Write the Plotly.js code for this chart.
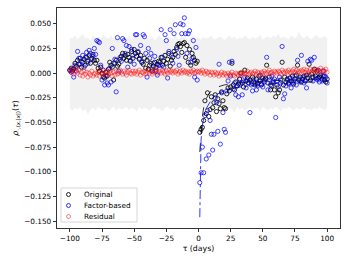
<!DOCTYPE html>
<html>
<head>
<meta charset="utf-8">
<script src="https://cdn.plot.ly/plotly-3.0.1.min.js"></script>
<style>html,body{margin:0;padding:0;background:#fff;}#chart{width:349px;height:262px;}</style>
</head>
<body>
<div id="chart"></div>
<script>
// lags (days) -100..100
const tau = Array.from({length: 201}, (_, i) => i - 100);
const bandTau = Array.from({length: 101}, (_, i) => -100 + 2 * i);

// Original series, tau -100..100 (tau 0 missing)
const original = [
  0.003, 0.005, 0.002, 0.004, 0.010, 0.007, 0.013, 0.009, 0.015, 0.006,
  0.011, 0.014, 0.008, 0.016, 0.012, 0.018, 0.010, 0.015, 0.019, 0.013,
  0.010, 0.013, 0.005, 0.002, 0.006, 0.000, -0.004, -0.005, 0.001, -0.003,
  0.004, 0.011, 0.008, 0.006, -0.007, 0.010, 0.013, 0.007, 0.009, 0.014,
  0.017, 0.020, 0.015, 0.018, 0.013, 0.019, 0.016, 0.012, 0.022, 0.015,
  0.024, 0.020, 0.017, 0.021, 0.014, 0.018, 0.011, 0.009, 0.015, 0.005,
  0.013, 0.004, 0.008, 0.010, 0.002, 0.007, 0.011, 0.006, 0.009, 0.012,
  0.011, 0.016, 0.008, 0.012, 0.018, 0.010, 0.014, 0.020, 0.007, 0.013,
  0.016, 0.022, 0.019, 0.026, 0.029, 0.030, 0.027, 0.021, 0.030, 0.031,
  0.016, 0.028, 0.011, 0.024, 0.008, 0.020, 0.016, 0.013, 0.010, 0.012,
  null,
  -0.060, -0.057, -0.055, -0.048, -0.028, -0.041, -0.020, -0.044, -0.037, -0.024,
  -0.035, -0.030, -0.022, -0.039, -0.026, -0.031, -0.036, -0.019, -0.028, -0.035,
  -0.036, -0.021, -0.015, -0.018, -0.014, 0.010, -0.012, -0.017, -0.009, -0.013,
  -0.011, -0.006, 0.000, -0.010, -0.014, 0.003, -0.008, -0.005, -0.010, -0.007,
  -0.009, -0.004, -0.009, -0.012, -0.006, -0.011, -0.003, -0.008, -0.012, -0.005,
  -0.007, -0.006, 0.008, -0.010, -0.004, -0.017, -0.013, -0.008, -0.017, -0.024,
  -0.012, -0.020, -0.017, -0.007, 0.011, -0.012, -0.004, -0.009, -0.006, -0.010,
  -0.005, -0.008, -0.003, -0.011, -0.006, -0.002, 0.008, -0.007, -0.004, -0.009,
  -0.006, -0.003, -0.008, -0.002, -0.005, 0.009, -0.007, -0.001, -0.004, 0.004,
  -0.003, 0.002, -0.005, -0.004, -0.002, -0.006, -0.003, -0.007, -0.009, -0.006
];

// Factor-based series
const factor = [
  0.003, 0.001, 0.004, -0.004, 0.008, 0.002, 0.022, 0.015, 0.009, 0.012,
  0.018, 0.006, 0.016, 0.021, 0.010, 0.023, 0.020, 0.014, 0.017, 0.025,
  0.019, 0.033, 0.032, 0.031, 0.008, -0.007, 0.003, -0.012, -0.003, -0.010,
  -0.012, 0.005, -0.009, 0.025, 0.010, 0.014, -0.019, 0.036, 0.002, 0.016,
  0.012, 0.035, 0.033, 0.020, 0.028, 0.006, 0.027, 0.013, 0.024, 0.018,
  0.009, 0.039, 0.039, 0.022, 0.015, 0.028, 0.011, 0.039, 0.037, 0.020,
  -0.004, 0.025, 0.015, 0.020, 0.004, 0.010, 0.017, 0.002, -0.002, 0.008,
  0.008, 0.044, 0.016, 0.006, 0.039, 0.033, -0.005, 0.022, 0.044, 0.018,
  0.010, 0.040, 0.049, 0.024, 0.017, 0.008, 0.050, 0.040, 0.049, 0.056,
  0.040, 0.020, 0.040, 0.043, 0.011, 0.015, 0.033, -0.004, 0.026, -0.007,
  null,
  -0.111, -0.101, -0.075, -0.101, -0.043, -0.087, -0.038, -0.083, -0.048, -0.062,
  -0.078, -0.062, -0.025, -0.030, -0.059, 0.009, -0.072, -0.020, -0.040, -0.057,
  -0.060, -0.018, -0.008, 0.011, -0.003, 0.012, -0.016, -0.010, -0.022, -0.013,
  -0.024, -0.006, -0.011, -0.022, -0.009, -0.004, -0.015, -0.007, -0.010, -0.040,
  -0.012, -0.018, -0.006, -0.010, -0.017, -0.013, -0.008, -0.002, -0.011, -0.014,
  -0.009, -0.005, 0.016, -0.017, -0.007, -0.012, -0.003, -0.010, -0.006, -0.045,
  -0.008, -0.014, -0.004, -0.010, 0.027, -0.026, -0.021, -0.013, -0.007, -0.011,
  -0.005, -0.015, -0.010, -0.008, -0.003, -0.012, 0.013, -0.006, -0.009, 0.018,
  -0.004, -0.010, -0.007, -0.015, 0.012, -0.002, 0.014, 0.013, -0.008, 0.016,
  -0.005, -0.006, 0.003, -0.009, -0.004, -0.008, 0.002, -0.003, -0.004, -0.010
];

// Residual series
const residual = [
  0.003, 0.001, 0.004, -0.001, 0.002, 0.005, 0.000, 0.003, -0.002, 0.001,
  -0.003, 0.002, -0.001, 0.001, -0.004, 0.000, -0.002, 0.002, -0.003, -0.001,
  0.000, -0.002, 0.001, -0.003, 0.002, -0.001, 0.003, 0.000, -0.002, 0.001,
  -0.001, 0.002, 0.000, -0.003, 0.001, -0.002, 0.002, -0.001, 0.000, 0.003,
  0.001, -0.001, 0.002, 0.000, -0.002, 0.001, 0.003, 0.000, -0.001, 0.002,
  0.000, 0.002, -0.001, 0.001, 0.003, -0.002, 0.001, 0.000, 0.002, -0.001,
  0.001, 0.003, 0.000, 0.002, -0.001, 0.001, 0.002, 0.004, 0.000, 0.001,
  0.002, 0.000, 0.003, 0.001, -0.001, 0.002, 0.000, 0.003, 0.001, 0.002,
  0.000, 0.002, 0.001, 0.003, -0.001, 0.001, 0.002, 0.000, 0.003, 0.001,
  0.002, 0.000, 0.001, -0.001, 0.002, 0.001, 0.003, 0.000, 0.001, 0.002,
  0.001,
  0.002, 0.000, 0.003, 0.001, -0.001, 0.002, 0.000, 0.001, -0.002, 0.001,
  0.000, -0.002, 0.001, -0.001, 0.000, -0.003, -0.001, 0.001, -0.002, 0.000,
  -0.001, -0.003, 0.000, -0.002, -0.001, 0.001, -0.002, -0.003, 0.000, -0.001,
  -0.002, 0.000, -0.001, 0.001, -0.002, 0.000, -0.001, 0.002, -0.001, 0.000,
  0.001, -0.001, 0.000, 0.002, -0.001, 0.001, 0.000, -0.002, 0.001, 0.000,
  0.002, 0.000, -0.001, 0.001, 0.003, 0.000, 0.001, -0.001, 0.002, 0.001,
  0.000, 0.002, 0.001, -0.001, 0.003, 0.001, 0.000, 0.002, 0.001, 0.003,
  0.001, 0.000, 0.002, 0.004, 0.001, 0.003, 0.000, 0.002, 0.001, 0.003,
  0.002, 0.004, 0.001, 0.003, 0.000, 0.002, 0.004, 0.001, 0.003, 0.002,
  0.004, 0.001, 0.003, 0.002, 0.005, 0.001, 0.003, 0.002, 0.004, 0.001
];

// Null band (every 2 days)
const bandUpper = [
  0.036, 0.035, 0.038, 0.034, 0.037, 0.040, 0.035, 0.036, 0.033, 0.038,
  0.035, 0.037, 0.034, 0.039, 0.036, 0.035, 0.038, 0.034, 0.036, 0.037,
  0.033, 0.036, 0.035, 0.038, 0.034, 0.037, 0.035, 0.036, 0.039, 0.034,
  0.036, 0.035, 0.037, 0.033, 0.036, 0.038, 0.035, 0.034, 0.037, 0.036,
  0.035, 0.038, 0.034, 0.036, 0.037, 0.035, 0.033, 0.036, 0.038, 0.035,
  0.036,
  0.034, 0.037, 0.035, 0.036, 0.038, 0.034, 0.035, 0.037, 0.036, 0.033,
  0.036, 0.038, 0.035, 0.037, 0.034, 0.036, 0.035, 0.038, 0.036, 0.034,
  0.037, 0.035, 0.036, 0.039, 0.034, 0.036, 0.037, 0.035, 0.038, 0.036,
  0.040, 0.035, 0.037, 0.036, 0.034, 0.038, 0.036, 0.035, 0.042, 0.037,
  0.035, 0.038, 0.036, 0.034, 0.037, 0.039, 0.035, 0.036, 0.038, 0.035
];
const bandLower = [
  -0.036, -0.038, -0.035, -0.037, -0.034, -0.039, -0.036, -0.042, -0.037, -0.035,
  -0.038, -0.034, -0.036, -0.037, -0.035, -0.039, -0.036, -0.034, -0.038, -0.035,
  -0.037, -0.036, -0.034, -0.038, -0.035, -0.036, -0.039, -0.034, -0.037, -0.035,
  -0.036, -0.038, -0.035, -0.034, -0.037, -0.036, -0.039, -0.035, -0.034, -0.037,
  -0.035, -0.038, -0.036, -0.034, -0.037, -0.035, -0.036, -0.039, -0.035, -0.034,
  -0.036,
  -0.037, -0.035, -0.038, -0.034, -0.036, -0.039, -0.035, -0.037, -0.034, -0.036,
  -0.038, -0.035, -0.036, -0.040, -0.034, -0.037, -0.035, -0.038, -0.036, -0.034,
  -0.037, -0.036, -0.035, -0.039, -0.034, -0.036, -0.038, -0.035, -0.037, -0.034,
  -0.036, -0.039, -0.035, -0.037, -0.034, -0.036, -0.038, -0.035, -0.037, -0.036,
  -0.034, -0.037, -0.036, -0.038, -0.035, -0.037, -0.034, -0.036, -0.038, -0.035
];

// Fitted decay curves (tau > 0)
const fitTau = [1, 2, 3, 4, 5, 6, 8, 10, 15, 20, 30, 40, 50, 60, 75, 90, 100];
const fitOriginal = [-0.080, -0.057, -0.044, -0.035, -0.030, -0.026, -0.021, -0.018, -0.014, -0.012, -0.010, -0.009, -0.008, -0.0075, -0.007, -0.0067, -0.0065];
const fitFactor = [-0.146, -0.068, -0.053, -0.045, -0.040, -0.036, -0.031, -0.027, -0.021, -0.018, -0.0145, -0.0125, -0.0112, -0.0104, -0.0095, -0.0088, -0.0084];

const yTicks = [-0.15, -0.125, -0.1, -0.075, -0.05, -0.025, 0, 0.025, 0.05];
const xTicks = [-100, -75, -50, -25, 0, 25, 50, 75, 100];

// legend entries
const legendNames = ['Original', 'Factor-based', 'Residual'];
const legendColors = ['rgba(0,0,0,0.85)', 'rgba(0,0,255,0.8)', 'rgba(255,0,0,0.5)'];

const FONT = 'DejaVu Sans, sans-serif';
const traces = [
  {x: bandTau, y: bandLower, mode: 'lines', line: {width: 0, color: 'rgba(0,0,0,0)'}, showlegend: false, hoverinfo: 'skip'},
  {x: bandTau, y: bandUpper, mode: 'lines', fill: 'tonexty', fillcolor: 'rgba(225,225,225,0.45)', line: {width: 0, color: 'rgba(0,0,0,0)'}, showlegend: false, hoverinfo: 'skip'},
  {x: fitTau, y: fitOriginal, mode: 'lines', line: {color: '#000', width: 0.8, dash: 'dash'}, showlegend: false},
  {x: fitTau, y: fitFactor, mode: 'lines', line: {color: '#0000ff', width: 0.8, dash: 'dashdot'}, showlegend: false},
  {x: tau, y: original, mode: 'markers', name: legendNames[0], showlegend: false,
   marker: {symbol: 'circle-open', size: 4.2, color: legendColors[0], line: {width: 1}}},
  {x: tau, y: factor, mode: 'markers', name: legendNames[1], showlegend: false,
   marker: {symbol: 'circle-open', size: 4.2, color: legendColors[1], line: {width: 0.9}}},
  {x: tau, y: residual, mode: 'markers', name: legendNames[2], showlegend: false,
   marker: {symbol: 'circle-open', size: 4.2, color: legendColors[2], line: {width: 0.9}}}
];

// manual legend (pixel-placed in paper coordinates)
const plotL = 57, plotT = 8, plotW = 283, plotH = 220;
const px = (p) => (p - plotL) / plotW;
const py = (p) => (plotT + plotH - p) / plotH;
const shapes = [{
  type: 'rect', xref: 'paper', yref: 'paper',
  x0: px(61), x1: px(137), y0: py(222), y1: py(188),
  fillcolor: 'rgba(255,255,255,0.8)', line: {color: '#cccccc', width: 0.8}
}];
const annotations = [];
legendNames.forEach((name, i) => {
  const yc = 194.5 + i * 11;
  shapes.push({
    type: 'circle', xref: 'paper', yref: 'paper',
    xsizemode: 'pixel', ysizemode: 'pixel',
    xanchor: px(68.5), yanchor: py(yc),
    x0: -2, x1: 2, y0: -2, y1: 2,
    line: {color: legendColors[i], width: 1}
  });
  annotations.push({
    xref: 'paper', yref: 'paper', x: px(82), y: py(yc),
    xanchor: 'left', yanchor: 'middle', showarrow: false,
    text: name, font: {family: FONT, size: 7.3, color: '#000'}
  });
});

const axisCommon = {
  showline: true, mirror: true, linecolor: '#000', linewidth: 0.8,
  ticks: 'outside', ticklen: 3.5, tickwidth: 0.8, tickcolor: '#000',
  showgrid: false, zeroline: false,
  tickfont: {family: FONT, size: 7.3, color: '#000'}
};

const layout = {
  width: 349, height: 262,
  margin: {l: 57, r: 9, t: 8, b: 34},
  paper_bgcolor: '#fff', plot_bgcolor: '#fff',
  font: {family: FONT, size: 7.3, color: '#000'},
  xaxis: Object.assign({}, axisCommon, {
    range: [-110, 110], tickvals: xTicks,
    title: {text: 'τ (days)', font: {family: FONT, size: 7.8}, standoff: 3}
  }),
  yaxis: Object.assign({}, axisCommon, {
    range: [-0.157, 0.066], tickvals: yTicks, tickformat: '.3f',
    title: {text: '<i>ρ</i><sub>·,(<i>x</i>,|<i>x</i>|)</sub>(<i>τ</i>)', font: {family: FONT, size: 7.8}, standoff: 4}
  }),
  shapes: shapes,
  annotations: annotations,
  showlegend: false
};

Plotly.newPlot('chart', traces, layout, {staticPlot: true, displayModeBar: false});
</script>
</body>
</html>
